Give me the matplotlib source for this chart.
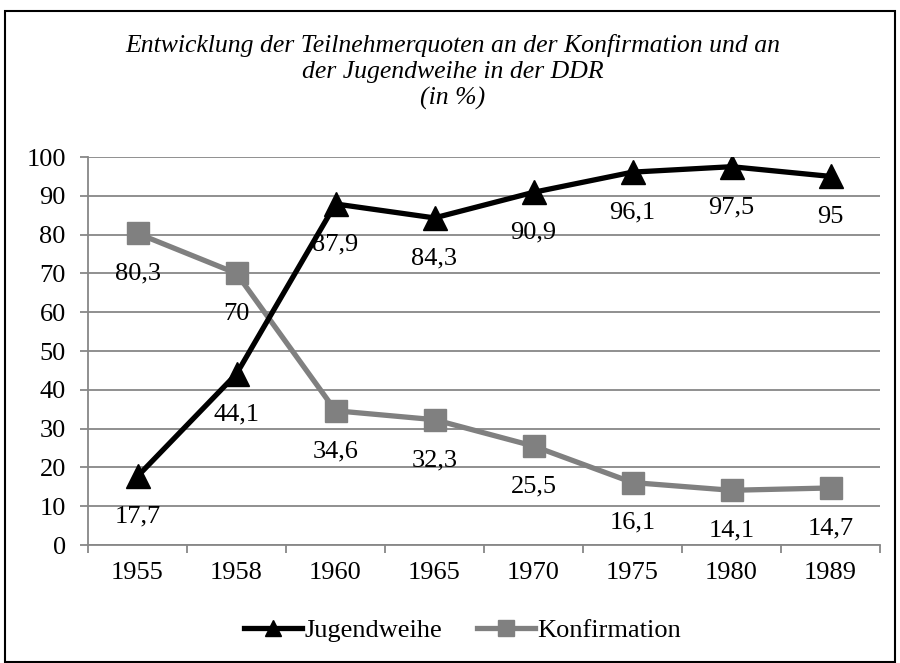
import matplotlib
matplotlib.use("Agg")
import matplotlib.pyplot as plt
from matplotlib.patches import Rectangle
from matplotlib.lines import Line2D

years = ["1955", "1958", "1960", "1965", "1970", "1975", "1980", "1989"]
jugendweihe = [17.7, 44.1, 87.9, 84.3, 90.9, 96.1, 97.5, 95]
konfirmation = [80.3, 70, 34.6, 32.3, 25.5, 16.1, 14.1, 14.7]
jugend_labels = ["17,7", "44,1", "87,9", "84,3", "90,9", "96,1", "97,5", "95"]
konf_labels = ["80,3", "70", "34,6", "32,3", "25,5", "16,1", "14,1", "14,7"]
title = "Entwicklung der Teilnehmerquoten an der Konfirmation und an\nder Jugendweihe in der DDR\n(in %)"

plt.rcParams['font.family'] = ['Liberation Serif', 'DejaVu Serif']

W, H = 900, 663
fig = plt.figure(figsize=(9, 6.63), dpi=100)
ax = fig.add_axes([88 / W, 1 - 545 / H, (880 - 88) / W, (545 - 157) / H])

grid_col = "#878787"
fs = 19
x = list(range(len(years)))
ax.plot(x, jugendweihe, color="black", lw=3.8, marker="^", ms=17, zorder=4,
        solid_joinstyle="round", solid_capstyle="round", label="Jugendweihe")
ax.plot(x, konfirmation, color="#808080", lw=3.8, marker="s", ms=16, zorder=3,
        solid_joinstyle="round", solid_capstyle="round", label="Konfirmation")

for xi, v, t in zip(x, jugendweihe, jugend_labels):
    ax.annotate(t, (xi, v), xytext=(0, -29), textcoords="offset points",
                ha="center", va="center", fontsize=fs, zorder=6)
for xi, v, t in zip(x, konfirmation, konf_labels):
    ax.annotate(t, (xi, v), xytext=(0, -29), textcoords="offset points",
                ha="center", va="center", fontsize=fs, zorder=6)

ax.set_xlim(-0.5, len(years) - 0.5)
ax.set_ylim(0, 100)
ax.set_yticks(range(0, 101, 10))
ax.set_xticks(x)
ax.set_xticklabels(years)
ax.set_xticks([i - 0.5 for i in range(len(years) + 1)], minor=True)
ax.tick_params(axis="x", which="major", length=0, pad=12, labelsize=fs)
ax.tick_params(axis="x", which="minor", length=6, width=1.3, color=grid_col, direction="out")
ax.tick_params(axis="y", which="major", length=6, width=1.3, color=grid_col, pad=10, labelsize=fs)
ax.yaxis.grid(True, color=grid_col, lw=1.3)
ax.set_axisbelow(True)
for s in ["top", "right"]:
    ax.spines[s].set_visible(False)
for s in ["left", "bottom"]:
    ax.spines[s].set_color(grid_col)
    ax.spines[s].set_linewidth(1.3)

fig.text(0.503, 1 - 72 / H, title, ha="center", va="center", fontsize=18.5,
         style="italic", linespacing=1.2)

handles = [Line2D([], [], color="black", lw=3.8, marker="^", ms=12),
           Line2D([], [], color="#808080", lw=3.8, marker="s", ms=12)]
fig.legend(handles, ["Jugendweihe", "Konfirmation"], loc="center",
           bbox_to_anchor=(0.514, 1 - 630 / H), ncol=2, frameon=False,
           fontsize=fs, handlelength=2.2, handletextpad=0.1, columnspacing=1.3)

fig.add_artist(Rectangle((5 / W, 1 / H), (895 - 5) / W, (651) / H,
                         transform=fig.transFigure, fill=False, ec="black", lw=1.5))

fig.savefig("out.png", dpi=100)
